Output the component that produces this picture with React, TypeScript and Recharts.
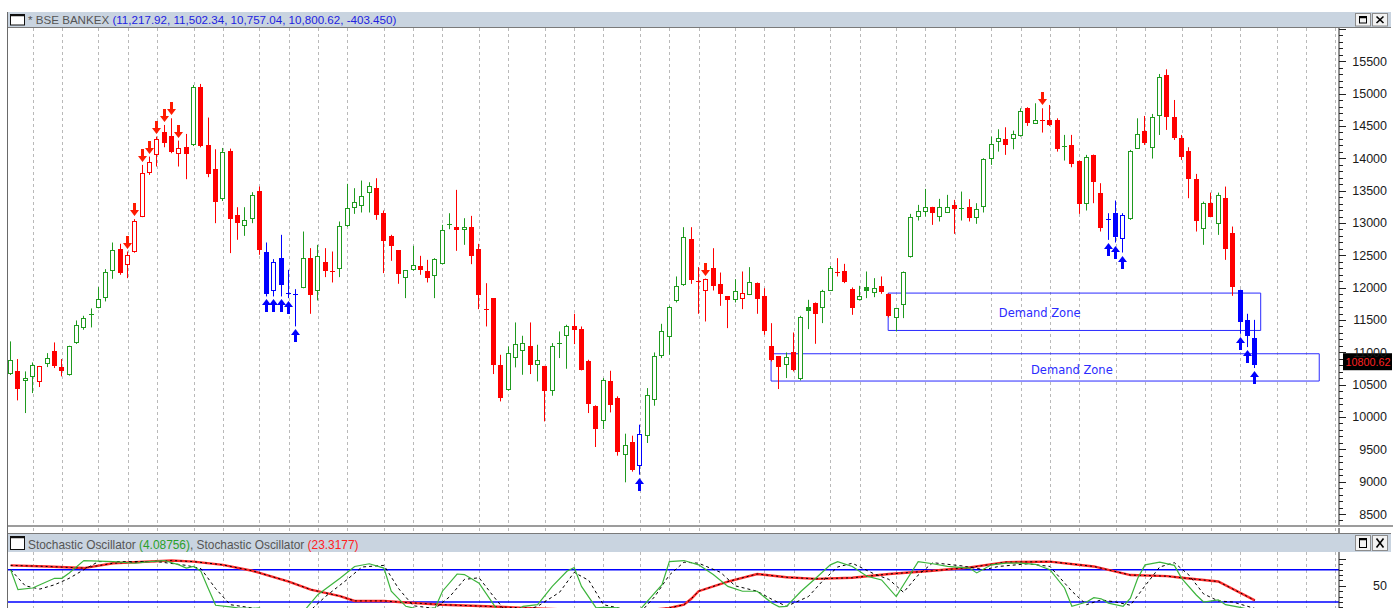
import React from "react";
import {
  ComposedChart,
  LineChart,
  Bar,
  Line,
  XAxis,
  YAxis,
  CartesianGrid,
  ReferenceLine,
  ReferenceArea,
  ReferenceDot,
} from "recharts";

// weekly OHLC (index 0 = first candle)
const opens = [
  10669, 10705, 10556, 10618, 10535, 10824, 11014, 10772, 10654, 11143,
  11370, 11585, 11689, 11833, 12250, 12595, 12353, 12549, 13100, 13780,
  14048, 14408, 14346, 14068, 14171, 14207, 15109, 14207, 13831, 13368,
  14110, 13126, 12946, 13059, 13497, 12559, 11941, 12456, 11910, 11900,
  11993, 12456, 11941, 12389, 12255, 12286, 12946, 13229, 13265, 13471,
  13538, 13152, 12801, 12575, 12147, 12266, 12338, 12250, 12183, 12368,
  12980, 12945, 12894, 12935, 12595, 11675, 11838, 10808, 10411, 10911,
  11024, 11101, 10803, 10782, 10396, 11138, 11246, 11410, 11359, 10859,
  10174, 9943, 10561, 10293, 9412, 9608, 9247, 9701, 10267, 10937,
  11235, 11786, 12044, 12749, 12100, 11951, 12301, 12054, 11864, 11802,
  11822, 11889, 12070, 11864, 11101, 10937, 10808, 10998, 10586, 11694,
  11761, 11683, 11956, 12240, 12265, 11982, 11802, 12008, 11915, 12029,
  11905, 11529, 11735, 12472, 13090, 13177, 13244, 13100, 13162, 13280,
  13224, 13244, 13074, 13244, 13986, 14248, 14295, 14300, 14351, 14784,
  14532, 14600, 14594, 14594, 14185, 14207, 13960, 13296, 14053, 13460,
  13065, 13151, 12749, 13058, 14150, 14428, 14166, 14655, 15288, 14634,
  14310, 14119, 13682, 12904, 13306, 12981, 13383, 12842, 11967, 11493,
  11218,
];
const highs = [
  11169, 10896, 10705, 10844, 10790, 10988, 11153, 10896, 11102, 11493,
  11565, 11679, 12008, 12286, 12698, 12678, 12559, 13059, 13898, 14027,
  14336, 14516, 14619, 14274, 14377, 15134, 15150, 14630, 14140, 14160,
  14150, 13244, 13244, 13476, 13564, 12698, 12441, 12817, 12276, 11977,
  12868, 12611, 12662, 12611, 12559, 13023, 13605, 13538, 13656, 13630,
  13692, 13193, 12817, 12580, 12270, 12647, 12492, 12430, 12456, 12971,
  13151, 13512, 13074, 13110, 12677, 12069, 11840, 10962, 11091, 11462,
  11256, 11462, 11117, 10790, 11143, 11323, 11426, 11596, 11400, 10885,
  10180, 10602, 10715, 10319, 9742, 9711, 9881, 10447, 10998, 11441,
  11719, 12173, 12935, 12935, 12317, 12140, 12610, 12234, 11870, 12131,
  12250, 12317, 12080, 11992, 11451, 10940, 10998, 11307, 11565, 11812,
  11771, 11967, 12337, 12456, 12368, 12003, 12028, 12250, 12147, 12173,
  11910, 11690, 12250, 13141, 13280, 13527, 13250, 13373, 13435, 13357,
  13486, 13368, 13306, 14001, 14336, 14449, 14480, 14429, 14774, 14790,
  14851, 14774, 14825, 14619, 14362, 14362, 13965, 14053, 14058, 13615,
  13151, 13347, 13151, 14130, 14619, 14655, 14686, 15304, 15376, 14902,
  14361, 14171, 13759, 13331, 13470, 13470, 13563, 12945, 11970, 11596,
  11502,
];
const lows = [
  10650, 10257, 10061, 10370, 10463, 10772, 10757, 10628, 10640, 11130,
  11349, 11385, 11680, 11787, 12137, 12199, 12147, 12540, 13090, 13744,
  13873, 14171, 14079, 13873, 13677, 14190, 14171, 13708, 12997, 13340,
  12534, 12740, 12801, 12997, 12508, 11864, 11864, 11864, 11838, 11401,
  11990, 11596, 11802, 12163, 12080, 12163, 12940, 13141, 13162, 13162,
  13049, 12225, 12415, 12060, 11838, 12260, 12199, 12080, 11838, 12360,
  12904, 12569, 12662, 12363, 11668, 11400, 10664, 10241, 10405, 10767,
  10653, 10664, 10550, 9932, 10329, 10911, 10746, 11127, 10720, 10061,
  9536, 9814, 10071, 9402, 8990, 9155, 9108, 9598, 10174, 10911,
  10962, 11771, 12028, 12059, 11596, 11477, 11956, 11719, 11374, 11771,
  11668, 11885, 11596, 11271, 10859, 10432, 10602, 10705, 10566, 11359,
  11132, 11452, 11950, 12173, 12070, 11580, 11800, 11838, 11853, 11905,
  11540, 11323, 11529, 12465, 13038, 13100, 12971, 13023, 13160, 12832,
  13038, 13023, 12987, 13162, 13898, 14104, 14053, 14140, 14336, 14501,
  14530, 14398, 14501, 14104, 13965, 13862, 13141, 13193, 13306, 12868,
  12739, 12698, 12543, 13048, 14145, 14207, 13996, 14361, 14439, 14284,
  13975, 13383, 12868, 12662, 13089, 12816, 12430, 11874, 11287, 11081,
  10757,
];
const closes = [
  10875, 10432, 10602, 10808, 10782, 10911, 10782, 10705, 11092, 11416,
  11529, 11600, 11823, 12240, 12575, 12225, 12503, 13038, 13780, 13950,
  14295, 14233, 14099, 14156, 14068, 15109, 14192, 13759, 13332, 14104,
  13059, 13007, 13049, 13425, 12575, 11905, 12389, 12044, 11900, 11905,
  12456, 11890, 12482, 12250, 12245, 12961, 13229, 13332, 13419, 13579,
  13126, 12724, 12637, 12214, 12266, 12353, 12276, 12147, 12440, 12894,
  12990, 12894, 12945, 12497, 11889, 11665, 10808, 10293, 10988, 11132,
  11143, 10808, 10875, 10396, 11101, 11148, 11410, 11349, 10731, 10205,
  9819, 10576, 10190, 9453, 9572, 9185, 9742, 10344, 10947, 11323,
  11694, 12028, 12780, 12121, 12090, 12131, 12028, 11905, 11812, 11956,
  11925, 12095, 11822, 11333, 10875, 10772, 10926, 10720, 11544, 11632,
  11596, 11951, 12301, 12224, 12090, 11683, 11874, 11941, 11992, 11926,
  11555, 11684, 12235, 13085, 13188, 13254, 13152, 13244, 13254, 13213,
  13214, 13074, 13218, 13986, 14223, 14310, 14207, 14377, 14733, 14552,
  14594, 14590, 14516, 14140, 14178, 13914, 13296, 14017, 13630, 12919,
  13055, 12790, 13125, 14114, 14377, 14233, 14645, 15263, 14634, 14310,
  14027, 13676, 13023, 13306, 13100, 13434, 12595, 12008, 11462, 11246,
  10801,
];

// signal candles (arrows)
const buySignals = [35, 36, 37, 38, 39, 86, 150, 151, 152, 168, 169, 170];
const sellSignals = [16, 17, 18, 19, 20, 21, 22, 23, 95, 141];

// month separators (candle index)
const monthLines = [
  3, 7, 12, 16, 20, 25, 29, 34, 38, 42, 46, 51, 55, 59, 64, 68, 73, 77, 81, 86,
  90, 94, 99, 103, 107, 112, 116, 121, 125, 129, 134, 138, 142, 146, 151, 155,
  160, 164, 168, 173, 177, 181,
];

const priceTicks = [
  8500, 9000, 9500, 10000, 10500, 11000, 11500, 12000, 12500, 13000, 13500,
  14000, 14500, 15000, 15500,
];

// demand zones
const zoneFrom = [119.9, 103.9];
const zoneTo = [170.8, 178.8];
const zoneLow = [11338, 10556];
const zoneHigh = [11916, 10978];
const zoneLabelAt = [140.6, 145.0];
const zoneLabelPrice = [11610, 10730];

// last bar quote shown in the header
const quote = [11217.92, 11502.34, 10757.04, 10800.62];
const quoteChange = -403.45;

// stochastic oscillator, [candle index, value]
const stochFast = [
  [0, 80], [1, 43], [3, 46], [4, 52], [6, 64], [7, 64], [8, 74], [10, 97], [14, 95], [17, 92],
  [19, 95], [21, 97], [23, 89], [24, 83], [25, 86], [26, 77], [27, 45], [28, 14], [30, 11], [31, 9],
  [33, 8], [34, 9], [35, -4], [37, -6], [39, -6], [40, 2], [42, 34], [45, 64], [47, 86], [49, 91],
  [51, 83], [52, 40], [54, 12], [56, 6], [58, 9], [59, 40], [61, 72], [62, 71], [64, 55], [66, 15],
  [67, -6], [69, 2], [70, 12], [72, 15], [74, 49], [76, 77], [77, 84], [78, 49], [80, 9], [81, 10],
  [83, 9], [85, -4], [86, 6], [89, 52], [90, 95], [92, 97], [94, 89], [96, 71], [98, 49], [100, 40],
  [102, 40], [104, 18], [105, 11], [106, 12], [108, 40], [110, 64], [112, 89], [113, 95], [115, 86],
  [117, 68], [119, 61], [121, 30], [122, 52], [124, 95], [126, 91], [128, 86], [131, 83], [132, 74],
  [134, 89], [136, 92], [138, 92], [140, 90], [142, 80], [144, 46], [145, 12], [147, 20], [148, 28],
  [149, 26], [150, 18], [152, 12], [153, 27], [154, 64], [155, 89], [157, 94], [159, 88], [160, 64],
  [162, 33], [163, 20], [165, 24], [166, 15], [168, 10], [170, 4],
];
const stochFastSignal = [
  [0, 80], [2, 50], [4, 44], [6, 52], [8, 64], [10, 80], [12, 95], [16, 95], [20, 95], [24, 88],
  [26, 82], [28, 45], [30, 15], [33, 9], [35, 3], [37, -5], [39, -4], [41, 5], [43, 30], [46, 62],
  [48, 85], [51, 88], [53, 45], [55, 13], [58, 8], [60, 30], [62, 62], [64, 65], [66, 30], [68, -3],
  [70, 3], [72, 12], [75, 38], [77, 75], [79, 60], [81, 15], [83, 9], [86, 0], [88, 30], [90, 70],
  [92, 94], [94, 92], [97, 75], [99, 50], [102, 40], [104, 25], [106, 12], [109, 30], [111, 60],
  [113, 85], [115, 92], [118, 72], [120, 62], [122, 38], [124, 70], [126, 93], [130, 87], [133, 80],
  [135, 86], [139, 91], [142, 86], [145, 40], [147, 15], [149, 24], [151, 20], [153, 14], [155, 50],
  [157, 85], [159, 93], [161, 70], [163, 35], [165, 22], [167, 20], [170, 8],
];
const stochSlow = [
  [0, 88], [5, 86], [10, 83], [14, 92], [22, 97], [25, 95], [29, 89], [33, 78], [38, 58], [41, 43],
  [45, 31], [47, 22], [51, 22], [53, 20], [59, 15], [65, 12], [72, 8], [76, 6], [83, 3], [86, 3],
  [90, 9], [92, 15], [93, 26], [94, 40], [98, 58], [102, 72], [106, 66], [110, 63], [115, 65],
  [120, 72], [126, 78], [131, 84], [136, 94], [142, 95], [148, 86], [153, 70], [158, 68], [160, 65],
  [165, 58], [170, 23],
];
const stochReadings = [4.08756, 23.3177];
const stochBands = [80, 20];

const SLOTS = 182;
const GREEN = "#1f9a1f";
const RED = "#ff0000";
const BLUE = "#0000ff";
const UI = "'Liberation Sans', Arial, Helvetica, sans-serif";
const HEADER_BG = "#c9d4e0";

const rows = Array.from({ length: SLOTS }, (_, i) => {
  if (i >= opens.length) return { i };
  const open = opens[i];
  const close = closes[i];
  const prev = i > 0 ? closes[i - 1] : open;
  let color = close >= prev ? GREEN : RED;
  const buy = buySignals.includes(i);
  const sell = sellSignals.includes(i);
  if (buy) color = BLUE;
  if (sell) color = RED;
  return {
    i,
    open,
    high: highs[i],
    low: lows[i],
    close,
    range: [lows[i], highs[i]],
    color,
    hollow: close > open,
    buy,
    sell,
  };
});

const toMap = (pts: number[][]) => new Map(pts.map(([i, v]) => [i, v]));
const fastMap = toMap(stochFast);
const sigMap = toMap(stochFastSignal);
const slowMap = toMap(stochSlow);
const oscRows = Array.from({ length: SLOTS }, (_, i) => ({
  i,
  fast: fastMap.has(i) ? fastMap.get(i) : null,
  sig: sigMap.has(i) ? sigMap.get(i) : null,
  slow: slowMap.has(i) ? slowMap.get(i) : null,
}));

const fmt2 = (v: number) =>
  v.toLocaleString("en-US", { minimumFractionDigits: 2, maximumFractionDigits: 2 });

// month separators behind the candles, placed through the x scale
const monthCoords = ({ xAxis, offset }: any) =>
  monthLines.map((m) => {
    const s = xAxis && xAxis.scale;
    if (typeof s === "function") {
      const v = s(m);
      const bw = typeof s.bandwidth === "function" ? s.bandwidth() : 0;
      if (isFinite(v)) return Math.round(v + bw / 2) + 0.5;
    }
    return Math.round(offset.left + ((m + 0.5) * offset.width) / SLOTS) + 0.5;
  });

const Candle = (props: any) => {
  const { x, y, width, height, payload } = props;
  if (!payload || payload.open == null || !isFinite(y) || !isFinite(height)) return null;
  const { open, high, low, close, color, hollow, buy, sell } = payload;
  const k = height / Math.max(high - low, 1e-6);
  const py = (p: number) => y + (high - p) * k;
  const cx = Math.floor(x + width / 2);
  const wx = cx + 0.5;
  const yTop = Math.round(py(Math.max(open, close)));
  const yBot = Math.round(py(Math.min(open, close)));
  const bodyH = Math.max(1, yBot - yTop);
  const yH = py(high);
  const yL = py(low);
  let body;
  if (hollow && bodyH > 2) {
    body = (
      <rect x={cx - 1.5} y={yTop + 0.5} width={4} height={bodyH - 1} fill="#fff" stroke={color} strokeWidth={1} />
    );
  } else {
    body = <rect x={cx - 2} y={yTop} width={5} height={bodyH} fill={color} />;
  }
  let arrow = null;
  if (buy) {
    const t = Math.round(yL) + 3;
    arrow = (
      <path
        d={`M${wx},${t} L${wx + 4.5},${t + 6} L${wx + 1.5},${t + 6} L${wx + 1.5},${t + 13} L${wx - 1.5},${t + 13} L${wx - 1.5},${t + 6} L${wx - 4.5},${t + 6} Z`}
        fill={BLUE}
      />
    );
  }
  if (sell) {
    const t = Math.round(yH) - 3;
    arrow = (
      <path
        d={`M${wx},${t} L${wx + 4.5},${t - 6} L${wx + 1.5},${t - 6} L${wx + 1.5},${t - 13} L${wx - 1.5},${t - 13} L${wx - 1.5},${t - 6} L${wx - 4.5},${t - 6} Z`}
        fill="#ff1a00"
      />
    );
  }
  return (
    <g>
      <line x1={wx} x2={wx} y1={yH} y2={yL} stroke={color} strokeWidth={1} />
      {body}
      {arrow}
    </g>
  );
};

const PriceTick = (props: any) => {
  const { x, y, payload } = props;
  const v = payload.value;
  const major = v % 500 === 0;
  const ly = Math.round(y) + 0.5;
  return (
    <g>
      <line x1={x} x2={x + (major ? 7 : 4)} y1={ly} y2={ly} stroke="#222" />
      {major && priceTicks.includes(v) ? (
        <text x={x + 48} y={y + 4.5} textAnchor="end" fontSize={12.5} fontFamily={UI} fill="#1a1a1a">
          {v}
        </text>
      ) : null}
    </g>
  );
};

const OscTick = (props: any) => {
  const { x, y, payload } = props;
  const v = payload.value;
  const major = v % 50 === 0;
  const ly = Math.round(y) + 0.5;
  return (
    <g>
      <line x1={x} x2={x + (major ? 7 : 4)} y1={ly} y2={ly} stroke="#222" />
      {v === 50 ? (
        <text x={x + 48} y={y + 4.5} textAnchor="end" fontSize={12.5} fontFamily={UI} fill="#1a1a1a">
          {v}
        </text>
      ) : null}
    </g>
  );
};

const LastPriceTag = (props: any) => {
  const vb = props.viewBox || {};
  const rx = vb.x + vb.width + 4;
  const vy = vb.y;
  return (
    <g>
      <rect x={rx} y={vy - 12} width={50} height={17} fill="#000" />
      <text
        x={rx + 2.5}
        y={vy + 1}
        fontSize={11.5}
        fontFamily={UI}
        fill="#ff2020"
        textLength={45}
        lengthAdjust="spacingAndGlyphs"
      >
        {fmt2(quote[3]).replace(",", "")}
      </text>
    </g>
  );
};

const WinButton = ({ x, y, h, kind }: any) => (
  <g>
    <rect x={x} y={y} width={15} height={h} fill="#f2f2f2" stroke="#8c8c8c" />
    {kind === "max" ? (
      <g>
        <rect x={x + 4} y={y + 3} width={7} height={h - 6} fill="none" stroke="#000" />
        <line x1={x + 4} x2={x + 11} y1={y + 4} y2={y + 4} stroke="#000" strokeWidth={1.5} />
      </g>
    ) : (
      <g stroke="#000" strokeWidth={1.6}>
        <line x1={x + 4} x2={x + 11} y1={y + 3} y2={y + h - 3} />
        <line x1={x + 11} x2={x + 4} y1={y + 3} y2={y + h - 3} />
      </g>
    )}
  </g>
);

const PaneHeader = ({ top, height, children }: any) => (
  <g>
    <rect x={7} y={top} width={1384} height={height} fill={HEADER_BG} />
    <rect x={10.5} y={top + 2.5} width={14} height={height - 5} fill="#fff" stroke="#111" />
    <line x1={10.5} x2={24.5} y1={top + 3.5} y2={top + 3.5} stroke="#111" strokeWidth={1.5} />
    {children}
    <WinButton x={1355.5} y={top + 1.5} h={height - 3} kind="max" />
    <WinButton x={1372.5} y={top + 1.5} h={height - 3} kind="close" />
  </g>
);

const App = () => {
  const minorTicks: number[] = [];
  for (let v = 8400; v <= 16000; v += 100) minorTicks.push(v);
  const oscTicks = [0, 10, 20, 30, 40, 50, 60, 70, 80, 90, 100];
  const title = `(${quote.map(fmt2).join(", ")}, ${quoteChange.toFixed(3)})`;

  return (
    <div
      style={{
        position: "absolute",
        left: 0,
        top: 0,
        width: 1400,
        height: 608,
        overflow: "hidden",
        background: "#fff",
        fontFamily: UI,
      }}
    >
      <div style={{ position: "absolute", left: 0, top: 28 }}>
        <ComposedChart width={1392} height={497} data={rows} margin={{ top: 0, right: 0, bottom: 0, left: 7 }}>
          <CartesianGrid
            horizontal={false}
            verticalCoordinatesGenerator={monthCoords}
            stroke="#b9b9b9"
            strokeDasharray="3 3"
          />
          <XAxis dataKey="i" type="category" hide />
          <XAxis xAxisId="n" dataKey="i" type="number" domain={[-0.5, SLOTS - 0.5]} hide allowDataOverflow />
          <YAxis
            orientation="right"
            width={53}
            domain={[8330, 16015]}
            ticks={minorTicks}
            interval={0}
            allowDataOverflow
            tick={PriceTick}
            tickLine={false}
            tickSize={0}
            tickMargin={0}
            axisLine={{ stroke: "#222" }}
          />
          {zoneFrom.map((z, k) => (
            <ReferenceArea
              key={`z${k}`}
              xAxisId="n"
              x1={z}
              x2={zoneTo[k]}
              y1={zoneLow[k]}
              y2={zoneHigh[k]}
              fill="none"
              stroke="#2a2aff"
              strokeOpacity={1}
              ifOverflow="visible"
            />
          ))}
          <Bar dataKey="range" barSize={5} shape={Candle} isAnimationActive={false} />
          {zoneLabelAt.map((zx, k) => (
            <ReferenceDot
              key={`l${k}`}
              xAxisId="n"
              x={zx}
              y={zoneLabelPrice[k]}
              r={0}
              fill="none"
              stroke="none"
              ifOverflow="visible"
              label={{ value: "Demand Zone", position: "center", fill: "#2b2bff", fontSize: 11.5, fontFamily: "'DejaVu Sans', sans-serif" }}
            />
          ))}
          <ReferenceLine y={quote[3]} stroke="none" ifOverflow="visible" label={LastPriceTag} />
        </ComposedChart>
      </div>

      <div style={{ position: "absolute", left: 0, top: 528 }}>
        <LineChart width={1392} height={90} data={oscRows} margin={{ top: 0, right: 0, bottom: 0, left: 7 }}>
          <CartesianGrid
            horizontal={false}
            verticalCoordinatesGenerator={monthCoords}
            stroke="#b9b9b9"
            strokeDasharray="3 3"
          />
          <XAxis dataKey="i" type="number" domain={[-0.5, SLOTS - 0.5]} hide allowDataOverflow />
          <YAxis
            orientation="right"
            width={53}
            domain={[-9.7, 157.4]}
            ticks={oscTicks}
            interval={0}
            allowDataOverflow
            tick={OscTick}
            tickLine={false}
            tickSize={0}
            tickMargin={0}
            axisLine={{ stroke: "#222" }}
          />
          {stochBands.map((b) => (
            <ReferenceLine key={`b${b}`} y={b} stroke="#0000ff" strokeWidth={1.4} />
          ))}
          <Line dataKey="slow" stroke="#ff2a2a" strokeWidth={2.4} dot={false} connectNulls isAnimationActive={false} />
          <Line dataKey="slow" stroke="#000" strokeWidth={1} strokeDasharray="2 3" dot={false} connectNulls isAnimationActive={false} />
          <Line dataKey="sig" stroke="#000" strokeWidth={1} strokeDasharray="3 3" dot={false} connectNulls isAnimationActive={false} />
          <Line dataKey="fast" stroke="#3cb43c" strokeWidth={1.2} dot={false} connectNulls isAnimationActive={false} />
        </LineChart>
      </div>

      <svg width={1400} height={608} style={{ position: "absolute", left: 0, top: 0, pointerEvents: "none" }}>
        <PaneHeader top={12} height={15.5}>
          <text x={28} y={24} fontSize={11.6} fontFamily={UI}>
            <tspan fill="#555">* BSE BANKEX </tspan>
            <tspan fill="#2222e0">{title}</tspan>
          </text>
        </PaneHeader>
        <line x1={7} x2={1391} y1={27.5} y2={27.5} stroke="#7a7a7a" />
        <rect x={7} y={525} width={1386} height={2} fill="#9c9c9c" />
        <line x1={7} x2={1391} y1={533.5} y2={533.5} stroke="#7a7a7a" />
        <PaneHeader top={534} height={18}>
          <text x={28} y={548.5} fontSize={11.9} fontFamily={UI}>
            <tspan fill="#555">Stochastic Oscillator </tspan>
            <tspan fill="#2aa02a">({stochReadings[0]})</tspan>
            <tspan fill="#555">, Stochastic Oscillator </tspan>
            <tspan fill="#ff2020">({stochReadings[1]})</tspan>
          </text>
        </PaneHeader>
        <line x1={7.5} x2={7.5} y1={12} y2={608} stroke="#6a6a6a" />
      </svg>
    </div>
  );
};

export default App;
